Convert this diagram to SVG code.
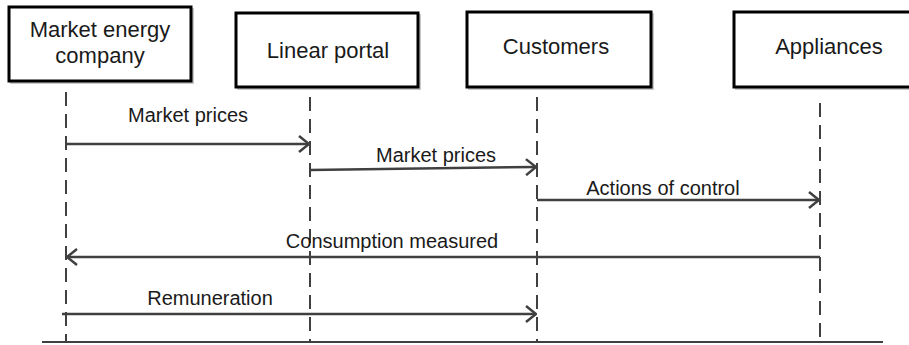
<svg xmlns="http://www.w3.org/2000/svg" width="909" height="345" viewBox="0 0 909 345">
  <defs>
    <style>
      .box { fill: #ffffff; stroke: #000000; stroke-width: 3; }
      .shadow { fill: none; stroke: #c8c8c8; stroke-width: 2; }
      .ntext { font-family: "Liberation Sans", Arial, sans-serif; font-size: 22px; fill: #1a1a1a; text-anchor: middle; }
      .ltext { font-family: "Liberation Sans", Arial, sans-serif; font-size: 20px; fill: #1a1a1a; text-anchor: middle; }
      .life { stroke: #404040; stroke-width: 2; stroke-dasharray: 14 8; fill: none; }
      .msg { stroke: #404040; stroke-width: 2.5; fill: none; }
      .base { stroke: #404040; stroke-width: 2; fill: none; }
    </style>
    <marker id="open" viewBox="0 0 12 18" refX="11" refY="9" markerWidth="12" markerHeight="18" markerUnits="userSpaceOnUse" orient="auto-start-reverse">
      <path d="M1,1 L11,9 L1,17" fill="none" stroke="#404040" stroke-width="2.5"/>
    </marker>
  </defs>

  <g id="node-market-energy-company">
    <rect class="shadow" x="11" y="9" width="182" height="74"/>
    <rect class="box" x="9" y="7" width="182" height="74"/>
    <text class="ntext" x="100" y="37">Market energy</text>
    <text class="ntext" x="100" y="63">company</text>
  </g>
  <g id="node-linear-portal">
    <rect class="shadow" x="238" y="15" width="182" height="74"/>
    <rect class="box" x="236" y="13" width="182" height="74"/>
    <text class="ntext" x="328" y="58">Linear portal</text>
  </g>
  <g id="node-customers">
    <rect class="shadow" x="469" y="14" width="184" height="75"/>
    <rect class="box" x="467" y="12" width="184" height="75"/>
    <text class="ntext" x="556" y="54">Customers</text>
  </g>
  <g id="node-appliances">
    <rect class="shadow" x="736" y="14" width="190" height="75"/>
    <rect class="box" x="734" y="12" width="190" height="75"/>
    <text class="ntext" x="829" y="54">Appliances</text>
  </g>

  <g id="lifelines">
    <line class="life" x1="66" y1="92" x2="66" y2="342"/>
    <line class="life" x1="310" y1="97" x2="310" y2="342"/>
    <line class="life" x1="537" y1="97" x2="537" y2="342"/>
    <line class="life" x1="820" y1="103" x2="820" y2="340"/>
    <line class="base" x1="42" y1="342" x2="883" y2="342"/>
  </g>

  <g id="connectors">
    <line class="msg" x1="66" y1="144" x2="309" y2="144" marker-end="url(#open)"/>
    <line class="msg" x1="310" y1="170" x2="536" y2="167" marker-end="url(#open)"/>
    <line class="msg" x1="537" y1="200" x2="819" y2="200" marker-end="url(#open)"/>
    <line class="msg" x1="67" y1="257" x2="820" y2="257" marker-start="url(#open)"/>
    <line class="msg" x1="62" y1="314" x2="536" y2="314" marker-end="url(#open)"/>
  </g>

  <g id="labels">
    <text class="ltext" x="188" y="122">Market prices</text>
    <text class="ltext" x="436" y="162">Market prices</text>
    <text class="ltext" x="663" y="195">Actions of control</text>
    <text class="ltext" x="392" y="248">Consumption measured</text>
    <text class="ltext" x="210" y="305">Remuneration</text>
  </g>
</svg>
